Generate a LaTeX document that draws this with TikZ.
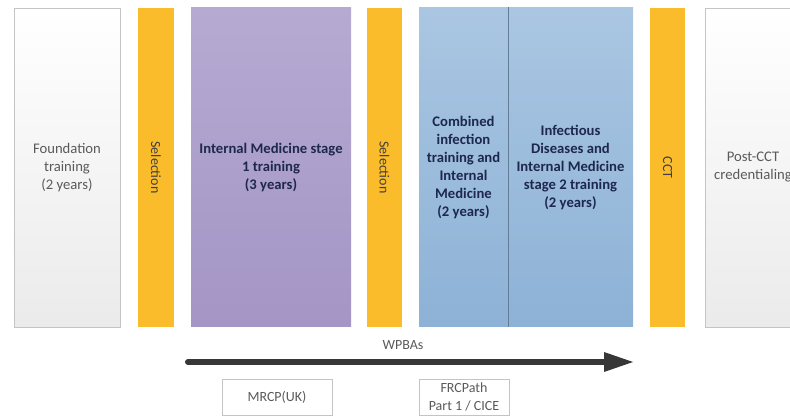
\documentclass[tikz,border=0pt]{standalone}
\usepackage{fontspec}
\setmainfont{Carlito}

\definecolor{selorange}{RGB}{250,188,42}
\definecolor{imtop}{RGB}{182,170,210}
\definecolor{imbottom}{RGB}{164,149,197}
\definecolor{idtop}{RGB}{170,198,226}
\definecolor{idbottom}{RGB}{141,178,214}
\definecolor{navytext}{RGB}{30,40,78}
\definecolor{greytext}{RGB}{90,90,90}
\definecolor{greyline}{RGB}{196,196,200}
\definecolor{arrowgrey}{RGB}{55,55,55}

\tikzset{every picture/.style={line width=0.75pt}}
\tikzset{
  plainbox/.style={draw=greyline, line width=0.6pt, top color=white, bottom color=black!8, minimum height=239.25pt, inner sep=0pt, text=greytext, align=center, font=\fontsize{11}{13.5}\selectfont},
  gatebox/.style={fill=selorange, minimum height=239.25pt, inner sep=0pt},
  gatetext/.style={rotate=-90, text=black!75, font=\fontsize{10.5}{12}\selectfont},
  imbox/.style={top color=imtop, bottom color=imbottom, minimum height=239.25pt, inner sep=0pt, text=navytext, align=center, font=\bfseries\fontsize{11}{13.5}\selectfont},
  idbox/.style={top color=idtop, bottom color=idbottom, minimum height=239.25pt, inner sep=0pt, text=navytext, align=center, font=\bfseries\fontsize{11}{13.5}\selectfont},
  exambox/.style={draw=greyline, line width=0.6pt, fill=white, minimum height=27pt, inner sep=0pt, text=greytext, align=center, font=\fontsize{10.5}{13}\selectfont}
}

\begin{document}
\begin{tikzpicture}[x=0.75pt,y=0.75pt,yscale=-1,xscale=1]

\useasboundingbox (0,0) rectangle (790,417);
\clip (0,0) rectangle (790,417);

% Stage Boxes
\node [plainbox, minimum width=79.5pt] (found) at (67,167.5) {Foundation\\training\\(2 years)};
\node [gatebox, minimum width=27pt] (sel1) at (156,167.5) {};
\node [gatetext] at (sel1) {Selection};
\node [imbox, minimum width=120pt] (imone) at (271,167.5) {Internal Medicine stage\\1 training\\(3 years)};
\node [gatebox, minimum width=26.25pt] (sel2) at (384.5,167.5) {};
\node [gatetext] at (sel2) {Selection};
\node [idbox, minimum width=66.75pt] (cit) at (463.5,167.5) {Combined\\infection\\training and\\Internal\\Medicine\\(2 years)};
\node [idbox, minimum width=93.75pt] (idim) at (570.5,167.5) {Infectious\\Diseases and\\Internal Medicine\\stage 2 training\\(2 years)};
\draw [color=idbottom!70!black, line width=0.5pt] (cit.north east) -- (cit.south east);
\node [gatebox, minimum width=26.25pt] (cct) at (667.5,167.5) {};
\node [gatetext] at (cct) {CCT};
\node [plainbox, minimum width=72pt] (post) at (753,167.5) {Post-CCT\\credentialing};

% Timeline
\coordinate (wstart) at (188,362);
\coordinate (wend) at (606,362);
\draw [color=arrowgrey, line width=4.5pt, line cap=round] (wstart) -- (wend) ;
\fill [shift={(wend)}, color=arrowgrey] (-2,-10) -- (27,0) -- (-2,10) -- cycle ;
\node [text=greytext, font=\fontsize{10.5}{12}\selectfont] (wpba) at (403,345) {WPBAs};

% Exam Boxes
\node [exambox, minimum width=82.5pt] (mrcp) at (277,397) {MRCP(UK)};
\node [exambox, minimum width=67.5pt] (frc) at (464,397) {FRCPath\\Part 1 / CICE};

\end{tikzpicture}
\end{document}
